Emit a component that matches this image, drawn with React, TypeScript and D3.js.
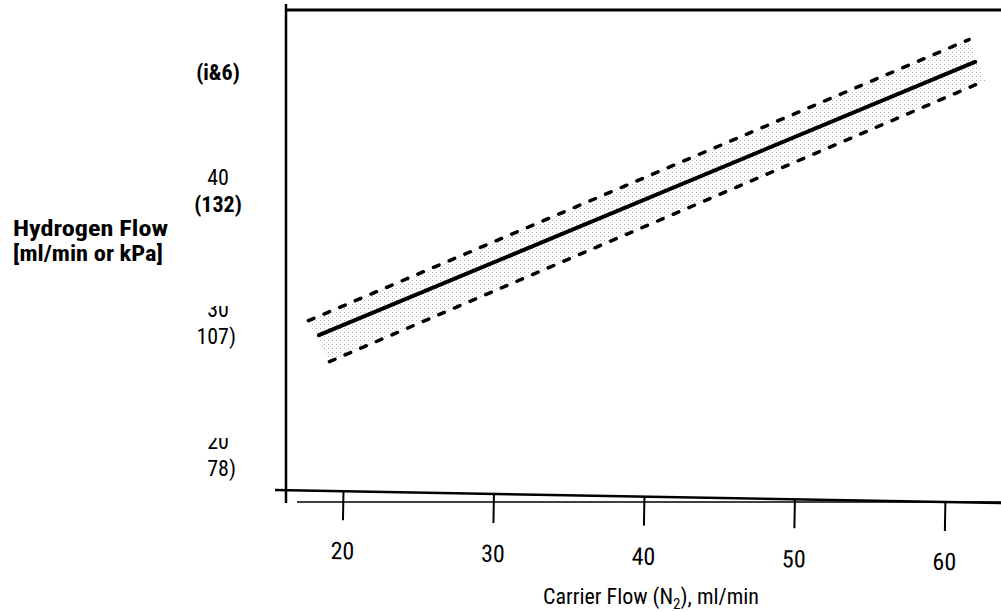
import React, { useEffect, useRef } from "react";
import * as d3 from "d3";

// ---- data ----
const carrierTicks = [20, 30, 40, 50, 60];
const h2TickValues = [20, 30, 40, 50];
const flowTickLabels = ["20", "30", "40", ""];
const kpaTickLabels = ["78)", "107)", "(132)", "(i&6)"];
const clippedFlow = [true, true, false, false];

const fitN2 = [18.4, 62.0];
const fitH2 = [29.0, 49.7];
const upperN2 = [17.7, 61.6];
const upperH2 = [30.1, 51.4];
const lowerN2 = [19.1, 62.7];
const lowerH2 = [27.0, 48.3];

const W = 1001;
const H = 612;
const FONT = "'Liberation Sans Narrow', 'Roboto Condensed', 'Liberation Sans', Arial, sans-serif";

export default function App() {
  const ref = useRef<SVGSVGElement | null>(null);

  useEffect(() => {
    const svg = d3.select(ref.current);
    svg.selectAll("*").remove();

    const x = d3.scaleLinear().domain([20, 60]).range([343, 945]);
    const y = d3.scaleLinear().domain([20, 50]).range([454, 58]);

    const defs = svg.append("defs");
    const pat = defs
      .append("pattern")
      .attr("id", "stip")
      .attr("width", 4)
      .attr("height", 4)
      .attr("patternUnits", "userSpaceOnUse");
    pat.append("rect").attr("width", 4).attr("height", 4).attr("fill", "#fff");
    pat.append("rect").attr("x", 0).attr("y", 0).attr("width", 1).attr("height", 1).attr("fill", "#a8a8a8");
    pat.append("rect").attr("x", 2).attr("y", 2).attr("width", 1).attr("height", 1).attr("fill", "#cfcfcf");

    // frame lines
    svg.append("line").attr("x1", 286).attr("x2", 286).attr("y1", 4).attr("y2", 503)
      .attr("stroke", "#000").attr("stroke-width", 2.5);
    svg.append("line").attr("x1", 286).attr("x2", W).attr("y1", 10).attr("y2", 10)
      .attr("stroke", "#000").attr("stroke-width", 3);

    // band
    const poly: [number, number][] = [
      [x(upperN2[0]), y(upperH2[0])],
      [x(upperN2[1]), y(upperH2[1])],
      [x(lowerN2[1]), y(lowerH2[1])],
      [x(lowerN2[0]), y(lowerH2[0])],
    ];
    svg.append("path")
      .attr("d", d3.line()(poly) + "Z")
      .attr("fill", "url(#stip)")
      .attr("stroke", "none");

    const seg = (xs: number[], ys: number[]) =>
      d3.line()(xs.map((v, i) => [x(v), y(ys[i])] as [number, number]));

    svg.append("path").attr("d", seg(upperN2, upperH2)!)
      .attr("fill", "none").attr("stroke", "#000").attr("stroke-width", 3.5)
      .attr("stroke-dasharray", "6 11").attr("stroke-linecap", "round");
    svg.append("path").attr("d", seg(lowerN2, lowerH2)!)
      .attr("fill", "none").attr("stroke", "#000").attr("stroke-width", 3.5)
      .attr("stroke-dasharray", "6 11").attr("stroke-linecap", "round");
    svg.append("path").attr("d", seg(fitN2, fitH2)!)
      .attr("fill", "none").attr("stroke", "#000").attr("stroke-width", 4)
      .attr("stroke-linecap", "round");

    // bottom axis (slightly skewed as in the scan)
    svg.append("line").attr("x1", 297).attr("x2", W).attr("y1", 502).attr("y2", 502)
      .attr("stroke", "#000").attr("stroke-width", 1.5);
    const gx = svg.append("g").attr("transform", "rotate(1.03, 275, 490)");
    gx.append("line").attr("x1", 275).attr("x2", 1010).attr("y1", 490).attr("y2", 490)
      .attr("stroke", "#000").attr("stroke-width", 2.5);
    const axis = d3.axisBottom(x).tickValues(carrierTicks).tickSize(29).tickPadding(22)
      .tickFormat(d3.format("d"));
    const ga = gx.append("g").attr("transform", "translate(0,490)").call(axis);
    ga.select(".domain").remove();
    ga.selectAll(".tick line").attr("stroke", "#000").attr("stroke-width", 2);
    ga.selectAll(".tick text").attr("fill", "#000").attr("font-size", 24)
      .attr("font-family", FONT);

    // x title
    const xt = svg.append("text").attr("x", 651).attr("y", 604).attr("text-anchor", "middle")
      .attr("font-family", FONT).attr("font-size", 22).attr("fill", "#000");
    xt.append("tspan").text("Carrier Flow (N");
    xt.append("tspan").attr("font-size", 15).attr("dy", 5).text("2");
    xt.append("tspan").attr("dy", -5).text("), ml/min");

    // y title
    svg.append("text").attr("x", 13).attr("y", 236).attr("font-family", FONT)
      .attr("font-weight", "bold").attr("font-size", 22).attr("fill", "#000")
      .attr("textLength", 155).attr("lengthAdjust", "spacingAndGlyphs")
      .text("Hydrogen Flow");
    svg.append("text").attr("x", 13).attr("y", 261).attr("font-family", FONT)
      .attr("font-weight", "bold").attr("font-size", 22).attr("fill", "#000")
      .attr("textLength", 150).attr("lengthAdjust", "spacingAndGlyphs")
      .text("[ml/min or kPa]");

    // y tick labels (paired ml/min and kPa)
    h2TickValues.forEach((v, i) => {
      const cy = y(v);
      if (flowTickLabels[i]) {
        const t = svg.append("text").attr("x", 218).attr("y", cy - 13)
          .attr("text-anchor", "middle").attr("dominant-baseline", "central")
          .attr("font-family", FONT).attr("font-size", 22).attr("fill", "#000")
          .text(flowTickLabels[i]);
        if (clippedFlow[i]) {
          const id = "clip" + i;
          defs.append("clipPath").attr("id", id).append("rect")
            .attr("x", 190).attr("y", cy - 13 - 3).attr("width", 60).attr("height", 30);
          t.attr("clip-path", `url(#${id})`);
        }
      }
      const bold = kpaTickLabels[i].startsWith("(");
      svg.append("text").attr("x", bold ? 218 : 236).attr("y", cy + 14)
        .attr("text-anchor", bold ? "middle" : "end").attr("dominant-baseline", "central")
        .attr("font-family", FONT).attr("font-size", 22)
        .attr("font-weight", bold ? "bold" : "normal").attr("fill", "#000")
        .text(kpaTickLabels[i]);
    });
  }, []);

  return (
    <svg
      ref={ref}
      width={W}
      height={H}
      style={{ position: "absolute", left: 0, top: 0, background: "#fff" }}
    />
  );
}
